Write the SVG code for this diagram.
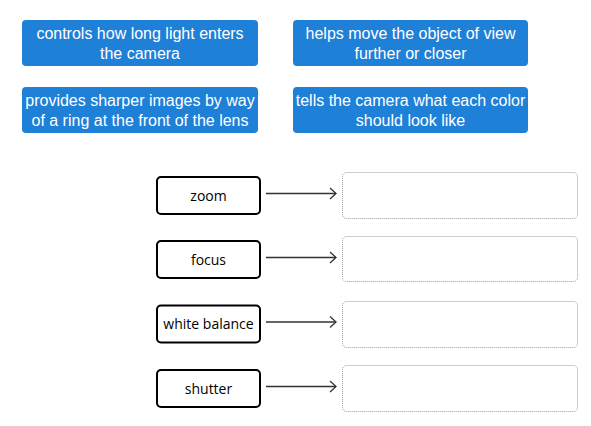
<svg xmlns="http://www.w3.org/2000/svg" width="591" height="426" viewBox="0 0 591 426">
<style>
.opt rect{fill:#1f80d8;}
.opt text{fill:#fff;font-family:"Liberation Sans",Arial,sans-serif;font-size:16px;text-anchor:middle;}
.term rect{fill:#fff;stroke:#000;stroke-width:2;}
.term text{fill:#000;font-family:"Open Sans",sans-serif;font-size:14px;text-anchor:middle;}
.drop rect{fill:#fff;stroke:#999;stroke-width:1;stroke-dasharray:1 1;}
.conn line,.conn path{stroke:#333;stroke-width:1.3;fill:none;}
</style>
<rect width="591" height="426" fill="#fff"/>
<g id="opt1" class="opt"><rect x="22" y="20" width="236" height="46" rx="4"/><text x="140" y="39">controls how long light enters</text><text x="140" y="59">the camera</text></g>
<g id="opt2" class="opt"><rect x="293" y="20" width="235" height="46" rx="4"/><text x="410.5" y="39">helps move the object of view</text><text x="410.5" y="59">further or closer</text></g>
<g id="opt3" class="opt"><rect x="22" y="87" width="236" height="46" rx="4"/><text x="140" y="106">provides sharper images by way</text><text x="140" y="126">of a ring at the front of the lens</text></g>
<g id="opt4" class="opt"><rect x="293" y="87" width="235" height="46" rx="4"/><text x="410.5" y="106">tells the camera what each color</text><text x="410.5" y="126">should look like</text></g>
<g id="t1" class="term"><rect x="157" y="177" width="103" height="37" rx="4"/><text x="208.5" y="200.5">zoom</text></g>
<g id="t2" class="term"><rect x="157" y="241" width="103" height="37" rx="4"/><text x="208.5" y="264.5">focus</text></g>
<g id="t3" class="term"><rect x="157" y="305.5" width="103" height="37" rx="4"/><text x="208.5" y="329">white balance</text></g>
<g id="t4" class="term"><rect x="157" y="370" width="103" height="37" rx="4"/><text x="208.5" y="393.5">shutter</text></g>
<g id="d1" class="drop"><rect x="342.5" y="172.5" width="235" height="46" rx="4"/></g>
<g id="d2" class="drop"><rect x="342.5" y="236.5" width="235" height="45" rx="4"/></g>
<g id="d3" class="drop"><rect x="342.5" y="301.5" width="235" height="46" rx="4"/></g>
<g id="d4" class="drop"><rect x="342.5" y="365.5" width="235" height="46" rx="4"/></g>
<g id="connectors" class="conn">
<line x1="266" y1="193.5" x2="336" y2="193.5"/><path d="M330 188 L336 193.5 L330 199"/>
<line x1="266" y1="257.5" x2="336" y2="257.5"/><path d="M330 252 L336 257.5 L330 263"/>
<line x1="266" y1="322" x2="336" y2="322"/><path d="M330 316.5 L336 322 L330 327.5"/>
<line x1="266" y1="386.5" x2="336" y2="386.5"/><path d="M330 381 L336 386.5 L330 392"/>
</g>
</svg>
